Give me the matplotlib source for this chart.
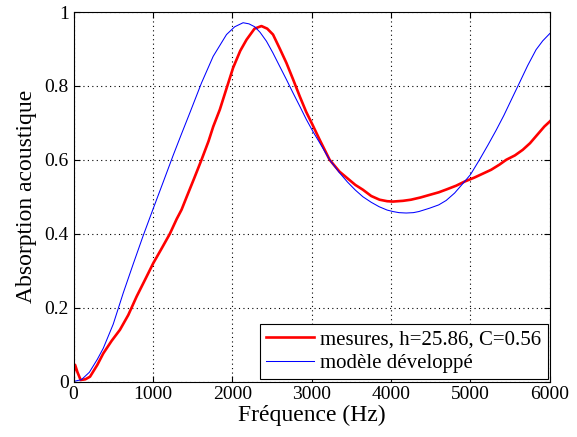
import matplotlib
matplotlib.use("Agg")
import matplotlib.pyplot as plt
from matplotlib.ticker import FormatStrFormatter

# measured absorption (red)
red_f = [0, 20, 50, 90, 150, 208, 300, 375, 480, 585, 690, 795, 900, 1004, 1110,
         1214, 1300, 1361, 1424, 1520, 1612, 1700, 1760, 1843, 1930, 2010, 2100,
         2179, 2280, 2367, 2440, 2513, 2600, 2682, 2765, 2849, 2930, 3010, 3101,
         3226, 3350, 3450, 3550, 3645, 3750, 3855, 3950, 4023, 4150, 4250, 4370,
         4484, 4600, 4700, 4820, 4925, 5050, 5150, 5260, 5365, 5450, 5560, 5658,
         5750, 5850, 5930, 6000]
red_a = [0.02, 0.045, 0.025, 0.004, 0.006, 0.013, 0.045, 0.076, 0.11, 0.14, 0.18,
         0.23, 0.275, 0.32, 0.36, 0.40, 0.44, 0.465, 0.499, 0.55, 0.60, 0.65, 0.69,
         0.736, 0.795, 0.849, 0.895, 0.925, 0.955, 0.962, 0.955, 0.939, 0.90, 0.862,
         0.818, 0.772, 0.73, 0.695, 0.654, 0.60, 0.568, 0.55, 0.532, 0.519, 0.502,
         0.492, 0.488, 0.487, 0.489, 0.492, 0.498, 0.505, 0.512, 0.52, 0.53, 0.541,
         0.552, 0.562, 0.573, 0.587, 0.60, 0.612, 0.627, 0.645, 0.67, 0.69, 0.704]

# model (blue)
blue_f = [0, 100, 200, 300, 375, 500, 627, 752, 878, 1004, 1130, 1255, 1360, 1465,
          1612, 1759, 1850, 1927, 2030, 2136, 2210, 2283, 2350, 2430, 2510, 2597,
          2680, 2765, 2850, 2933, 3020, 3101, 3226, 3350, 3450, 3550, 3645, 3750,
          3850, 3950, 4023, 4100, 4190, 4280, 4350, 4484, 4600, 4694, 4800, 4925,
          5000, 5113, 5220, 5323, 5420, 5520, 5616, 5720, 5826, 5910, 6000]
blue_a = [0.0, 0.005, 0.025, 0.06, 0.09, 0.155, 0.24, 0.318, 0.395, 0.468, 0.54,
          0.612, 0.67, 0.727, 0.808, 0.880, 0.912, 0.939, 0.960, 0.971, 0.968, 0.960,
          0.945, 0.921, 0.89, 0.853, 0.818, 0.781, 0.745, 0.709, 0.675, 0.646, 0.60,
          0.565, 0.54, 0.518, 0.50, 0.485, 0.473, 0.464, 0.46, 0.457, 0.456, 0.457,
          0.46, 0.469, 0.478, 0.49, 0.51, 0.541, 0.56, 0.60, 0.64, 0.68, 0.72, 0.765,
          0.808, 0.855, 0.898, 0.922, 0.942]

x_ticks = [0, 1000, 2000, 3000, 4000, 5000, 6000]
y_ticks = [0, 0.2, 0.4, 0.6, 0.8, 1]

plt.rcParams['font.family'] = ['Liberation Serif', 'DejaVu Serif']

fig = plt.figure(figsize=(5.77, 4.37), dpi=100)
ax = fig.add_axes([0.1274, 0.127, 0.8256, 0.8455])

ax.plot(red_f, red_a, color='red', lw=1.9, label='mesures, h=25.86, C=0.56')
ax.plot(blue_f, blue_a, color='blue', lw=0.75, label='modèle développé')

ax.set_xlim(0, 6000)
ax.set_ylim(0, 1)
ax.set_xticks(x_ticks)
ax.set_yticks(y_ticks)
ax.yaxis.set_major_formatter(FormatStrFormatter('%g'))
ax.grid(True, color='black', linestyle=(0, (1, 3)), linewidth=0.8)
ax.tick_params(direction='in', top=True, right=True, labelsize=14, length=4, width=0.8)
for s in ax.spines.values():
    s.set_linewidth(0.8)

ax.set_xlabel('Fréquence (Hz)', fontsize=17, labelpad=1)
ax.set_ylabel('Absorption acoustique', fontsize=17, labelpad=5)

leg = ax.legend(loc='lower right', fontsize=15, fancybox=False, framealpha=1,
                edgecolor='black', borderaxespad=0.1, handlelength=2.3,
                handletextpad=0.3, labelspacing=0.2, borderpad=0.3)
leg.get_frame().set_linewidth(0.8)

fig.savefig('out.png', dpi=100)
